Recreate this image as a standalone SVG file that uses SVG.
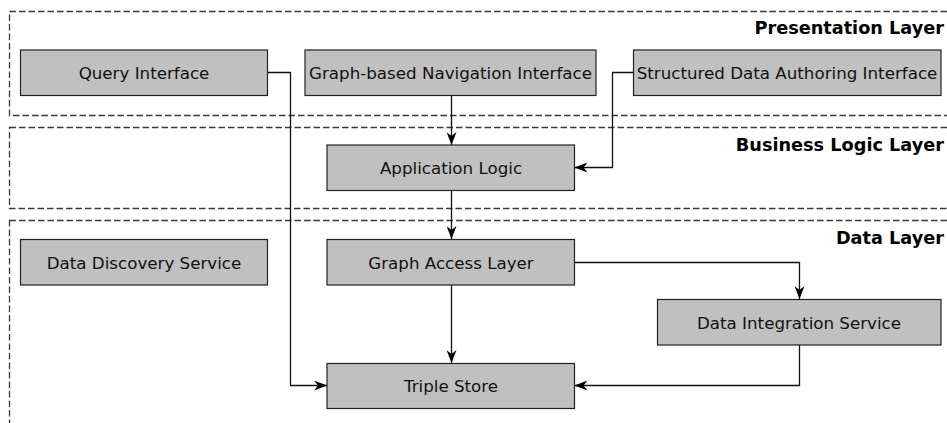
<svg xmlns="http://www.w3.org/2000/svg" width="947" height="423" viewBox="0 0 947 423">
  <style>
    .layer { fill: none; stroke: #3a3a3a; stroke-width: 1.3; stroke-dasharray: 6.5 3; }
    .layer-title { font-family: "DejaVu Sans", "Liberation Sans", sans-serif; font-weight: bold; font-size: 17.7px; fill: #000; text-anchor: end; }
    .box { fill: #c0c0c0; stroke: #222; stroke-width: 1.2; }
    .label { font-family: "DejaVu Sans", "Liberation Sans", sans-serif; font-size: 16.7px; fill: #111; text-anchor: middle; }
    .edge { fill: none; stroke: #111; stroke-width: 1.3; marker-end: url(#arrow); }
  </style>
  <defs>
    <marker id="arrow" viewBox="0 0 13 10" refX="13" refY="5" markerWidth="13" markerHeight="10" markerUnits="userSpaceOnUse" orient="auto">
      <path d="M0,0 L13,5 L0,10 L4,5 Z" fill="#000"/>
    </marker>
  </defs>
  <rect width="947" height="423" fill="#fff"/>

  <!-- layers -->
  <g id="presentation-layer">
    <rect class="layer" x="9.5" y="11.5" width="960" height="104"/>
    <text class="layer-title" x="944" y="33.5">Presentation Layer</text>
  </g>
  <g id="business-logic-layer">
    <rect class="layer" x="9.5" y="127.5" width="960" height="81"/>
    <text class="layer-title" x="944" y="151">Business Logic Layer</text>
  </g>
  <g id="data-layer">
    <rect class="layer" x="9.5" y="220.5" width="960" height="240"/>
    <text class="layer-title" x="944" y="243.5">Data Layer</text>
  </g>

  <!-- connectors -->
  <g id="connectors">
    <polyline class="edge" points="267.5,72.5 290.5,72.5 290.5,385.5 327,385.5"/>
    <polyline class="edge" points="451.5,95.5 451.5,145"/>
    <polyline class="edge" points="633.5,72.5 612.5,72.5 612.5,167.5 574.5,167.5"/>
    <polyline class="edge" points="451.5,190.5 451.5,239"/>
    <polyline class="edge" points="574.5,262.5 799.5,262.5 799.5,299"/>
    <polyline class="edge" points="451.5,285 451.5,363"/>
    <polyline class="edge" points="799.5,345 799.5,385.5 574.5,385.5"/>
  </g>

  <!-- nodes -->
  <g id="query-interface">
    <rect class="box" x="20.5" y="50" width="247" height="45.5"/>
    <text class="label" x="144" y="79">Query Interface</text>
  </g>
  <g id="graph-navigation-interface">
    <rect class="box" x="305" y="50" width="291" height="45.5"/>
    <text class="label" x="450.5" y="79">Graph-based Navigation Interface</text>
  </g>
  <g id="structured-data-authoring-interface">
    <rect class="box" x="633.5" y="50" width="307.5" height="45.5"/>
    <text class="label" x="787" y="79">Structured Data Authoring Interface</text>
  </g>
  <g id="application-logic">
    <rect class="box" x="327" y="145" width="247.5" height="45.5"/>
    <text class="label" x="451" y="174">Application Logic</text>
  </g>
  <g id="data-discovery-service">
    <rect class="box" x="20.5" y="239.5" width="247" height="45.5"/>
    <text class="label" x="144" y="268.5">Data Discovery Service</text>
  </g>
  <g id="graph-access-layer">
    <rect class="box" x="327" y="239.5" width="247.5" height="45.5"/>
    <text class="label" x="451" y="268.5">Graph Access Layer</text>
  </g>
  <g id="data-integration-service">
    <rect class="box" x="657.5" y="299.5" width="283.5" height="45.5"/>
    <text class="label" x="799" y="328.5">Data Integration Service</text>
  </g>
  <g id="triple-store">
    <rect class="box" x="327" y="363.5" width="247.5" height="45"/>
    <text class="label" x="451" y="392">Triple Store</text>
  </g>
</svg>
